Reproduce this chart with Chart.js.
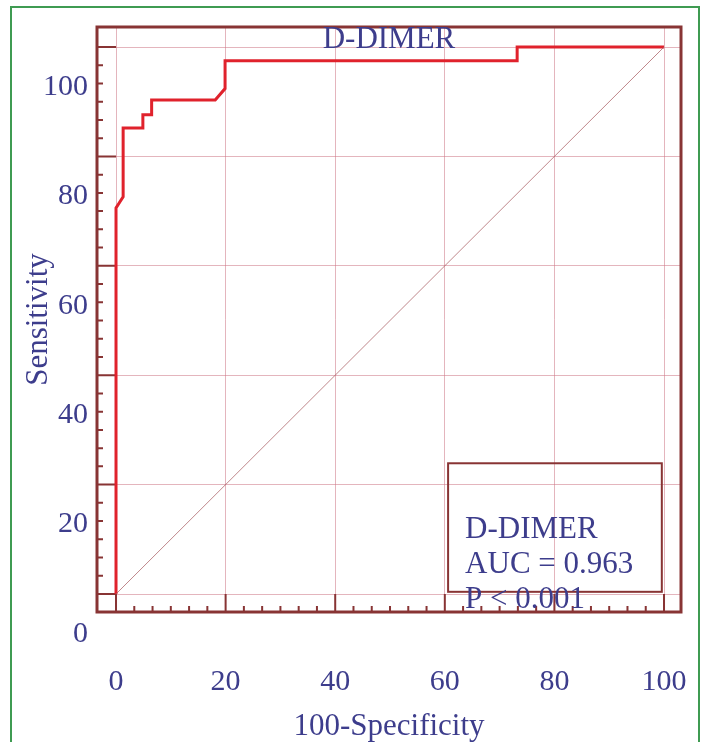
<!DOCTYPE html>
<html>
<head>
<meta charset="utf-8">
<script src="https://cdn.jsdelivr.net/npm/chart.js@4.4.0/dist/chart.umd.min.js"></script>
<style>
  html, body { margin: 0; padding: 0; background: #fff; overflow: hidden; }
  #wrap { position: relative; width: 702px; height: 742px; }
  #edge { position: absolute; left: 10px; top: 6px; width: 686px; height: 760px; border: 2px solid #3f9b52; }
  canvas { position: absolute; left: 0; top: 0; }
</style>
</head>
<body>
<div id="wrap">
  <div id="edge"></div>
  <canvas id="roc" width="702" height="742"></canvas>
</div>
<script>
'use strict';

// ROC curve (100-specificity vs sensitivity)
const fpr = [0, 0, 1.3, 1.3, 4.9, 4.9, 6.5, 6.5, 18.1, 19.9, 19.9, 73.2, 73.2, 100];
const sensitivity = [0, 70.6, 72.6, 85.2, 85.2, 87.6, 87.6, 90.3, 90.3, 92.4, 97.5, 97.5, 100, 100];
const refX = [0, 100];
const refY = [0, 100];
const xTicks = [0, 20, 40, 60, 80, 100];
const yTicks = [0, 20, 40, 60, 80, 100];
const boxLines = ['D-DIMER', 'AUC = 0.963', 'P < 0.001'];

const ink = '#3d3d8c';
const frameColor = '#883434';
const gridColor = 'rgba(205, 120, 135, 0.55)';
const serif = 'Liberation Serif';

const rocFrame = {
  id: 'rocFrame',
  beforeDatasetsDraw(chart) {
    const { ctx, chartArea: a, scales: { x, y } } = chart;
    const x0 = x.getPixelForValue(0);
    const y0 = y.getPixelForValue(0);
    ctx.save();
    ctx.strokeStyle = frameColor;
    ctx.lineWidth = 2;
    // small ticks every 20/6 units, long ones at every 20
    for (let i = 0; i <= 30; i++) {
      const v = (i * 20) / 6;
      const major = i % 6 === 0;
      const py = y.getPixelForValue(v);
      const px = x.getPixelForValue(v);
      ctx.beginPath();
      ctx.moveTo(a.left, py);
      ctx.lineTo(major ? x0 : a.left + 6, py);
      ctx.moveTo(px, a.bottom);
      ctx.lineTo(px, major ? y0 : a.bottom - 6);
      ctx.stroke();
    }
    ctx.lineWidth = 3;
    ctx.strokeRect(a.left, a.top, a.right - a.left, a.bottom - a.top);
    ctx.restore();
  },
  afterDraw(chart) {
    const { ctx, chartArea: a, scales: { x, y } } = chart;
    ctx.save();
    ctx.fillStyle = ink;
    ctx.font = '31px "' + serif + '"';
    ctx.textAlign = 'center';
    ctx.textBaseline = 'alphabetic';
    ctx.fillText('D-DIMER', (a.left + a.right) / 2, a.top + 21);

    // AUC box
    const bx1 = x.getPixelForValue(60.6);
    const bx2 = x.getPixelForValue(99.6);
    const by1 = y.getPixelForValue(23.9);
    const by2 = y.getPixelForValue(0.4);
    ctx.strokeStyle = frameColor;
    ctx.lineWidth = 2;
    ctx.strokeRect(bx1, by1, bx2 - bx1, by2 - by1);
    ctx.font = '31px "' + serif + '"';
    ctx.textAlign = 'left';
    boxLines.forEach((t, i) => {
      ctx.fillText(t, bx1 + 17, by2 - 54 + i * 35);
    });
    ctx.restore();
  },
};

const ctx = document.getElementById('roc');
new Chart(ctx, {
  type: 'scatter',
  data: {
    datasets: [
      {
        label: 'Reference',
        data: refX.map((v, i) => ({ x: v, y: refY[i] })),
        showLine: true,
        borderColor: 'rgba(170, 95, 100, 0.75)',
        borderWidth: 1,
        pointRadius: 0,
      },
      {
        label: 'D-DIMER',
        data: fpr.map((v, i) => ({ x: v, y: sensitivity[i] })),
        showLine: true,
        borderColor: '#e0222c',
        borderWidth: 3,
        pointRadius: 0,
        borderJoinStyle: 'miter',
      },
    ],
  },
  options: {
    responsive: false,
    animation: false,
    devicePixelRatio: 1,
    layout: { padding: { top: 27, right: 21, left: 0, bottom: 0 } },
    plugins: {
      legend: { display: false },
      tooltip: { enabled: false },
    },
    scales: {
      x: {
        type: 'linear',
        min: -3.47,
        max: 103.1,
        afterBuildTicks: (s) => {
          s.ticks = xTicks.map((v) => ({ value: v }));
        },
        afterFit: (s) => {
          s.height = 130;
          s.paddingLeft = 0;
          s.paddingRight = 0;
        },
        grid: { color: gridColor, lineWidth: 1, drawTicks: false },
        border: { display: false },
        ticks: {
          color: ink,
          font: { family: serif, size: 30 },
          padding: 52,
          maxRotation: 0,
          autoSkip: false,
        },
        title: {
          display: true,
          text: '100-Specificity',
          color: ink,
          font: { family: serif, size: 31, lineHeight: 1 },
          padding: 0,
        },
      },
      y: {
        type: 'linear',
        min: -3.29,
        max: 103.66,
        afterBuildTicks: (s) => {
          s.ticks = yTicks.map((v) => ({ value: v }));
        },
        afterFit: (s) => {
          s.width = 97;
          s.paddingTop = 0;
          s.paddingBottom = 0;
        },
        grid: { color: gridColor, lineWidth: 1, drawTicks: false },
        border: { display: false },
        ticks: {
          color: ink,
          font: { family: serif, size: 30 },
          padding: 9,
          labelOffset: 40,
          autoSkip: false,
        },
        title: {
          display: true,
          text: 'Sensitivity',
          color: ink,
          font: { family: serif, size: 31, lineHeight: 1.2 },
          padding: { top: 20, bottom: 0 },
        },
      },
    },
  },
  plugins: [rocFrame],
});
</script>
</body>
</html>
